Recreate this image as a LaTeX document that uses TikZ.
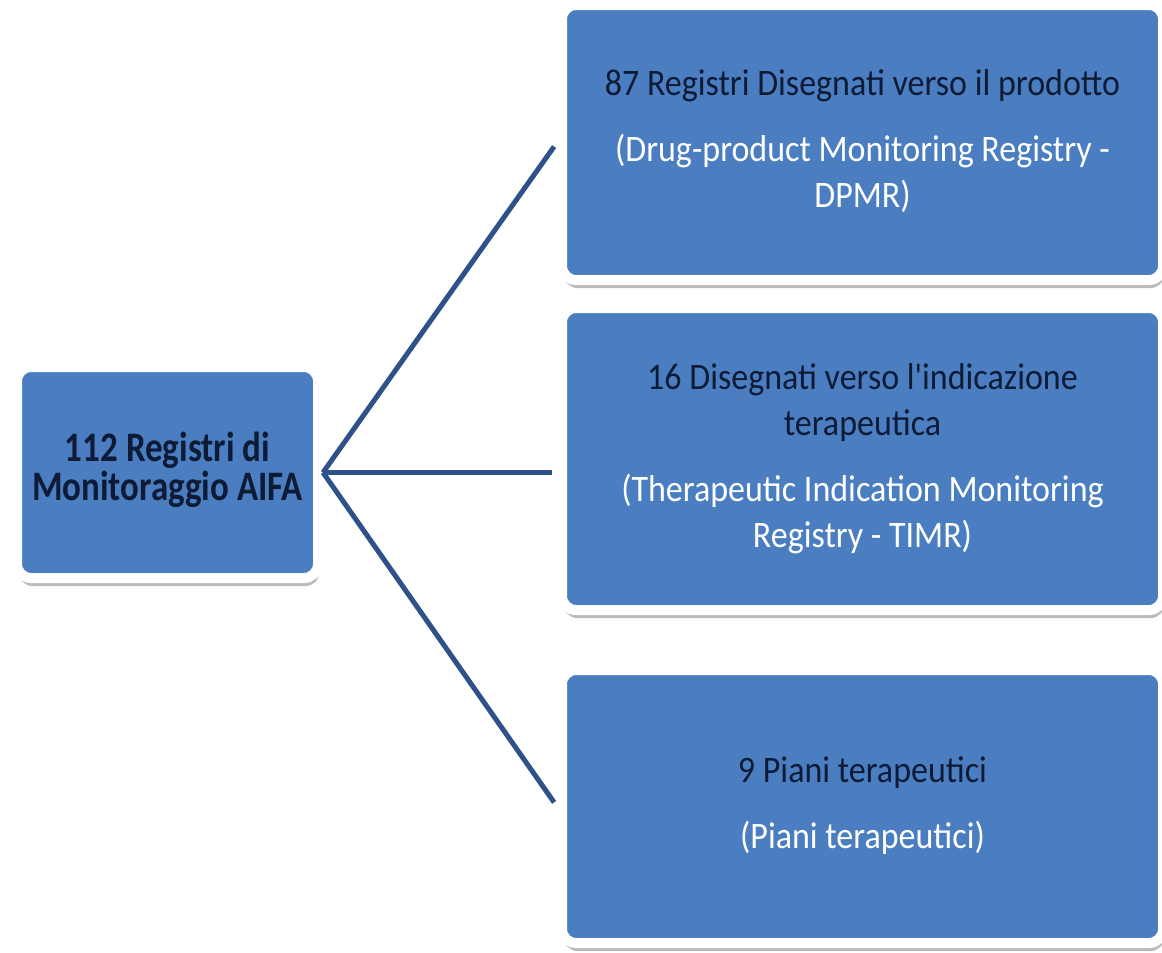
\documentclass[tikz,border=0pt]{standalone}
\usepackage{fontspec}
\setmainfont{Carlito}
\usepackage{graphicx}
\usetikzlibrary{shadows}
\definecolor{boxblue}{HTML}{4A7EC1}
\definecolor{linkblue}{HTML}{2F5189}
\definecolor{navytext}{HTML}{0E1B36}
\newcommand{\mystretch}[2]{\scalebox{1}[#1]{#2}}
\newcommand{\dk}[1]{\textcolor{navytext}{#1}}
\newcommand{\wt}[1]{\textcolor{white}{#1}}
\begin{document}
\begin{tikzpicture}[x=1pt,y=1pt,
  box/.style={rectangle, rounded corners=14pt, fill=boxblue, draw=white,
    line width=10pt, inner sep=0pt,
    drop shadow={shadow xshift=1.5pt, shadow yshift=-8pt, fill=black!45, opacity=0.6}},
  rtext/.style={font=\fontsize{34}{42}\selectfont},
  ltext/.style={font=\bfseries\fontsize{35}{35}\selectfont},
  link/.style={draw=linkblue, line width=5pt, shorten >=5pt}]
\fill[white] (0,0) rectangle (1162,-953);
\useasboundingbox (0,0) rectangle (1162,-953);

\node[box, ltext, minimum width=301pt, minimum height=211pt] (L) at (167.5,-472.5)
  {\mystretch{1.2}{\begin{tabular}{@{}c@{}}\dk{112 Registri di}\\[-2pt]\dk{Monitoraggio AIFA}\end{tabular}}};

\node[box, rtext, minimum width=601pt, minimum height=275pt] (T) at (862.5,-142.5)
  {\raisebox{-5pt}{\mystretch{1.1}{\begin{tabular}{@{}c@{}}\dk{87 Registri Disegnati verso il prodotto}\\[18pt]
   \wt{(Drug-product Monitoring Registry -}\\\wt{DPMR)}\end{tabular}}}};

\node[box, rtext, minimum width=601pt, minimum height=302pt] (M) at (862.5,-459)
  {\raisebox{6pt}{\mystretch{1.1}{\begin{tabular}{@{}c@{}}\dk{16 Disegnati verso l\textquotesingle indicazione}\\\dk{terapeutica}\\[18pt]
   \wt{(Therapeutic Indication Monitoring}\\\wt{Registry - TIMR)}\end{tabular}}}};

\node[box, rtext, minimum width=601pt, minimum height=273pt] (B) at (862.5,-806.5)
  {\raisebox{-4pt}{\mystretch{1.1}{\begin{tabular}{@{}c@{}}\dk{9 Piani terapeutici}\\[18pt]
   \wt{(Piani terapeutici)}\end{tabular}}}};

\draw[link] (L.east) -- (T.west);
\draw[link] (L.east) -- (L.east -| M.west);
\draw[link] (L.east) -- (B.west);
\end{tikzpicture}
\end{document}
